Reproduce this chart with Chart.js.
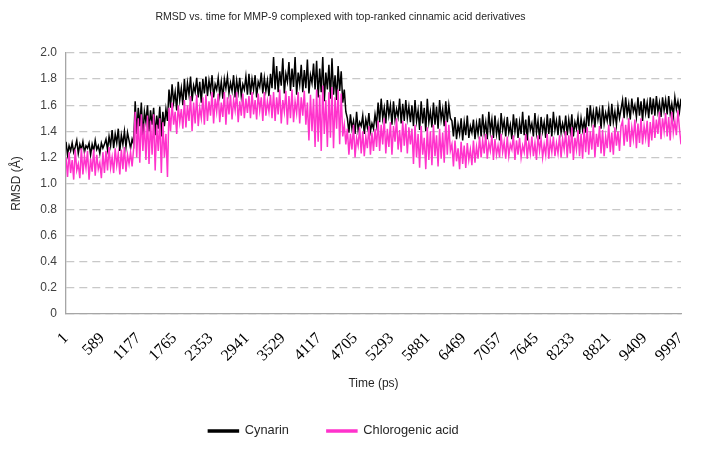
<!DOCTYPE html>
<html>
<head>
<meta charset="utf-8">
<script src="https://cdn.jsdelivr.net/npm/chart.js@4.4.1/dist/chart.umd.min.js"></script>
<style>
html,body{margin:0;padding:0;background:#fff;}
#wrap{width:702px;height:450px;position:relative;}
</style>
</head>
<body>
<div id="wrap"><canvas id="c" width="702" height="450"></canvas></div>
<script>
// ---- data ----
const chartTitle = 'RMSD vs. time for MMP-9 complexed with top-ranked cinnamic acid derivatives';
const xTitle = 'Time (ps)';
const yTitle = 'RMSD (Å)';
const seriesNames = ['Cynarin', 'Chlorogenic acid'];
const xTickLabels = [1, 589, 1177, 1765, 2353, 2941, 3529, 4117, 4705, 5293, 5881, 6469, 7057, 7645, 8233, 8821, 9409, 9997];
const yTickValues = [0, 0.2, 0.4, 0.6, 0.8, 1.0, 1.2, 1.4, 1.6, 1.8, 2.0];
const firstTime = 1;
const timeStep = 25; // values read every 25 ps from the picture

const cynarin = [
  1.32,1.22,1.29,1.25,1.31,1.24,1.28,1.33,1.23,1.30,1.26,1.32,1.24,1.29,1.27,1.31,1.22,1.30,1.25,1.33,1.26,1.29,1.23,1.31,1.27,1.30,
  1.34,1.26,1.36,1.29,1.41,1.27,1.38,1.31,1.42,1.25,1.37,1.30,1.40,1.28,1.39,1.33,
  1.27,1.34,1.30,
  1.63,1.38,1.58,1.44,1.62,1.36,1.55,1.47,
  1.60,1.40,1.56,1.45,1.58,1.37,1.52,1.42,1.59,1.36,1.55,1.44,1.57,1.48,
  1.72,1.58,1.76,1.62,1.70,1.56,1.78,1.64,1.73,1.60,
  1.80,1.64,1.77,1.68,1.82,1.63,1.75,1.70,1.81,1.66,1.78,1.62,1.80,1.69,
  1.82,1.67,1.79,1.71,1.83,1.66,1.76,1.72,1.81,1.68,1.78,1.65,1.80,1.73,1.82,1.69,1.77,1.71,1.83,1.66,1.79,1.70,1.81,1.67,1.76,1.72,1.82,1.68,
  1.84,1.68,1.80,1.72,1.83,1.66,1.78,1.74,1.85,1.69,1.81,1.71,1.79,1.67,1.84,1.73,
  1.97,1.72,1.90,1.70,1.86,1.75,1.96,1.69,1.84,1.78,1.93,1.71,1.88,1.74,1.97,1.68,1.85,1.76,1.91,1.70,1.87,1.73,1.95,1.69,1.83,1.77,1.92,1.72,
  1.94,1.66,1.88,1.70,1.97,1.63,1.85,1.72,1.91,1.65,1.96,1.68,1.83,1.64,1.90,1.71,1.86,1.62,
  1.72,1.55,
  1.50,1.39,1.53,1.42,1.48,1.38,1.55,1.41,1.47,1.44,1.52,1.38,1.49,1.43,1.54,1.40,1.46,1.42,1.53,1.45,
  1.62,1.47,1.65,1.50,1.58,1.46,1.64,1.52,1.60,1.45,1.63,1.49,1.57,1.51,1.65,1.46,1.61,1.48,1.64,1.50,1.59,1.47,
  1.60,1.44,1.64,1.48,1.56,1.41,1.63,1.46,1.58,1.40,1.65,1.47,1.55,1.43,1.62,1.45,1.59,1.42,1.64,1.49,1.57,1.44,
  1.63,1.47,1.60,1.50,
  1.48,1.36,1.51,1.34,1.45,1.38,1.50,1.33,1.47,1.37,1.52,1.35,1.44,1.39,1.49,1.34,1.46,1.38,
  1.50,1.36,1.53,1.39,1.47,1.34,1.55,1.40,1.49,1.35,
  1.52,1.38,1.46,1.33,1.54,1.41,1.48,1.36,1.51,1.39,
  1.45,1.34,1.53,1.40,1.50,1.35,1.47,1.38,1.55,1.37,
  1.49,1.33,1.52,1.41,1.46,1.36,1.54,1.39,1.48,1.34,
  1.51,1.40,1.47,1.35,1.53,1.38,1.50,1.36,1.55,1.41,
  1.48,1.37,1.52,1.39,1.46,1.40,
  1.52,1.37,1.49,1.40,1.53,1.36,1.47,1.42,1.51,1.38,1.50,1.41,1.48,1.39,
  1.58,1.44,1.60,1.47,1.55,1.43,1.59,1.49,1.56,1.42,1.60,1.46,1.54,1.48,1.58,1.44,1.61,1.47,1.55,1.45,1.59,1.50,1.57,
  1.64,1.50,1.66,1.53,1.61,1.49,1.65,1.55,1.60,1.51,1.66,1.52,1.63,1.48,1.65,1.54,1.62,1.50,1.66,1.53,
  1.65,1.52,1.67,1.55,1.62,1.51,1.66,1.56,1.64,1.53,1.67,1.54,1.61,1.52,1.66,1.57,1.63,1.55,1.65
];
const chlorogenicAcid = [
  1.20,1.05,1.24,1.08,1.18,1.03,1.26,1.10,1.15,1.04,1.27,1.07,1.21,1.12,1.25,1.03,1.19,1.09,1.26,1.06,1.22,1.11,1.16,1.04,1.24,1.08,
  1.25,1.10,1.28,1.12,1.20,1.08,1.27,1.14,1.23,1.07,1.26,1.11,1.28,1.09,1.22,1.15,
  1.24,1.13,1.27,
  1.55,1.20,1.50,1.16,1.53,1.25,1.46,1.18,
  1.52,1.15,1.48,1.22,1.53,1.10,1.45,1.25,1.50,1.08,1.47,1.20,1.38,1.05,
  1.58,1.40,1.62,1.45,1.55,1.38,1.60,1.47,1.57,1.42,
  1.64,1.43,1.60,1.48,1.67,1.40,1.62,1.46,1.68,1.44,1.58,1.50,1.66,1.45,
  1.68,1.48,1.63,1.52,1.70,1.46,1.65,1.55,1.69,1.47,1.62,1.51,1.70,1.45,1.66,1.53,1.68,1.49,1.64,1.56,1.70,1.47,1.63,1.52,1.69,1.50,1.65,1.54,
  1.67,1.50,1.70,1.53,1.64,1.49,1.69,1.56,1.66,1.48,1.70,1.52,1.63,1.55,1.68,1.50,
  1.70,1.48,1.66,1.53,1.72,1.46,1.64,1.55,1.71,1.45,1.67,1.50,1.72,1.47,1.63,1.54,1.70,1.46,1.66,1.52,1.71,1.45,1.62,1.33,1.68,1.40,1.65,1.28,
  1.72,1.32,1.68,1.25,1.75,1.38,1.64,1.28,1.70,1.35,1.74,1.27,1.66,1.42,1.72,1.30,1.69,1.36,
  1.45,1.30,
  1.42,1.22,1.38,1.26,1.45,1.20,1.35,1.29,1.43,1.23,1.40,1.21,1.36,1.27,1.44,1.22,1.39,1.25,1.42,1.28,
  1.48,1.25,1.45,1.30,1.50,1.23,1.42,1.28,1.47,1.22,1.44,1.32,1.50,1.26,1.41,1.24,1.48,1.29,1.46,1.23,1.43,1.30,
  1.42,1.15,1.45,1.20,1.38,1.12,1.44,1.22,1.35,1.11,1.43,1.18,1.40,1.14,1.45,1.21,1.37,1.13,1.42,1.19,1.39,1.16,
  1.48,1.22,1.45,1.25,
  1.30,1.13,1.33,1.17,1.27,1.11,1.32,1.15,1.29,1.12,1.31,1.18,1.26,1.14,1.33,1.16,1.28,1.19,
  1.36,1.20,1.33,1.23,1.38,1.19,1.31,1.25,1.37,1.18,
  1.34,1.22,1.29,1.20,1.38,1.24,1.32,1.19,1.36,1.21,
  1.30,1.26,1.37,1.18,1.33,1.22,1.35,1.20,1.29,1.24,
  1.38,1.19,1.32,1.23,1.36,1.21,1.31,1.18,1.37,1.25,
  1.34,1.20,1.30,1.22,1.38,1.19,1.33,1.24,1.36,1.21,
  1.31,1.23,1.37,1.20,1.34,1.26,
  1.40,1.20,1.37,1.23,1.43,1.18,1.35,1.26,1.41,1.21,1.38,1.19,1.42,1.24,
  1.43,1.22,1.40,1.26,1.45,1.20,1.38,1.28,1.44,1.23,1.41,1.21,1.36,1.27,1.45,1.24,1.39,1.22,1.43,1.29,1.40,1.25,1.44,
  1.48,1.29,1.45,1.32,1.50,1.28,1.43,1.34,1.49,1.27,1.46,1.31,1.50,1.30,1.44,1.35,1.48,1.28,1.47,1.33,
  1.52,1.35,1.49,1.38,1.55,1.34,1.50,1.40,1.54,1.36,1.51,1.33,1.55,1.39,1.48,1.37,1.56,1.42,1.30
];

// ---- build chart ----
const toPoints = arr => arr.map((v, i) => ({x: firstTime + i * timeStep, y: v}));
const SANS = "'Liberation Sans', Arial, sans-serif";
const SERIF = "'Liberation Serif', 'Times New Roman', serif";

const legendFit = {
  id: 'legendFit',
  beforeInit(chart) {
    const lg = chart.legend;
    if (!lg) return;
    const orig = lg.fit;
    lg.fit = function () { orig.call(this); this.height = 63.5; };
  },
  afterLayout(chart) {
    const lg = chart.legend;
    if (!lg) return;
    lg.left -= 7; lg.right -= 7;
  }
};

new Chart(document.getElementById('c'), {
  type: 'line',
  data: {
    datasets: [
      {label: seriesNames[0], data: toPoints(cynarin), borderColor: '#000000', backgroundColor: '#000000',
       borderWidth: 1.5, pointRadius: 0, tension: 0, order: 2},
      {label: seriesNames[1], data: toPoints(chlorogenicAcid), borderColor: '#ff33cc', backgroundColor: '#ff33cc',
       borderWidth: 1.5, pointRadius: 0, tension: 0, order: 1}
    ]
  },
  options: {
    responsive: false,
    animation: false,
    devicePixelRatio: 1,
    layout: {padding: {left: 0, right: 21, top: 0, bottom: 0}},
    plugins: {
      title: {display: true, text: chartTitle, color: '#262626',
        font: {family: SANS, size: 10.5, weight: 'normal', lineHeight: 1.2}, padding: {top: 11, bottom: 29.4}},
      legend: {position: 'bottom',
        labels: {boxWidth: 30, boxHeight: 2, padding: 38, color: '#262626',
          font: {family: SANS, size: 12.8},
          sort: (a, b) => a.datasetIndex - b.datasetIndex}},
      tooltip: {enabled: false}
    },
    scales: {
      x: {
        type: 'linear', min: 1, max: 10001,
        afterBuildTicks: s => { s.ticks = xTickLabels.map(v => ({value: v})); },
        afterFit: s => { s.height = 72.5; s.paddingLeft = 0; s.paddingRight = 0; },
        ticks: {autoSkip: false, minRotation: 45, maxRotation: 45, color: '#000',
          font: {family: SERIF, size: 16}, padding: 15, callback: v => String(v)},
        grid: {display: false, drawTicks: false},
        border: {display: true, color: '#a6a6a6', width: 1.3},
        title: {display: true, text: xTitle, color: '#262626', font: {family: SANS, size: 12},
          padding: {top: 0, bottom: -4.5}}
      },
      y: {
        min: 0, max: 2.0,
        afterBuildTicks: s => { s.ticks = yTickValues.map(v => ({value: v})); },
        afterFit: s => { s.width = 66; },
        ticks: {color: '#404040', font: {family: SANS, size: 12}, padding: 9,
          callback: v => v === 0 ? '0' : Number(v).toFixed(1)},
        grid: {color: '#c8c8c8', lineWidth: 1.3, drawTicks: false},
        border: {display: true, color: '#a6a6a6', width: 1.3, dash: [8, 5]},
        title: {display: true, text: yTitle, color: '#262626', font: {family: SANS, size: 12},
          padding: {top: 9, bottom: 0}}
      }
    }
  },
  plugins: [legendFit]
});
</script>
</body>
</html>
